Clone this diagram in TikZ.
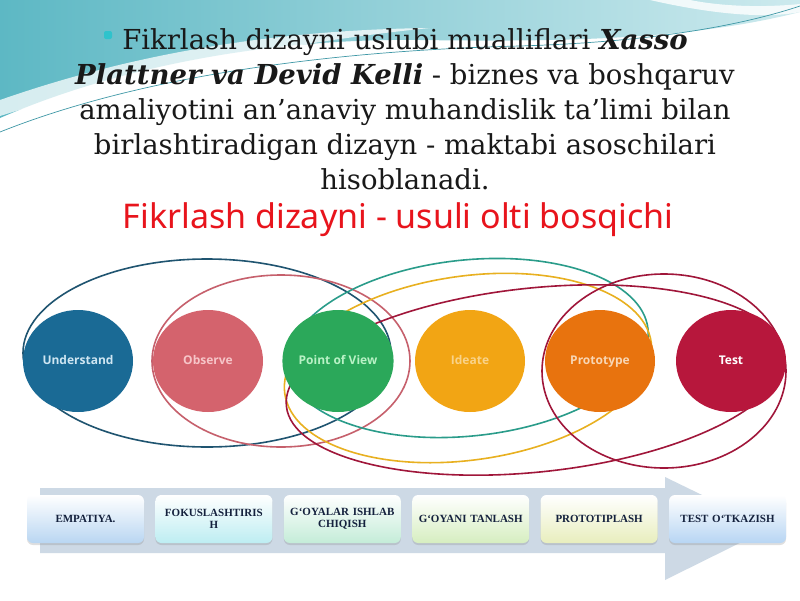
\documentclass[tikz,border=0pt]{standalone}
\usepackage{fontspec}
\setmainfont{DejaVu Serif}
\newfontfamily\headfont{Noto Sans}
\newfontfamily\labelfont{Open Sans}
\newfontfamily\boxfont{Liberation Serif}
\usetikzlibrary{positioning,shapes.geometric,shadows}
\definecolor{wave}{HTML}{5DB8C4}
\definecolor{wavelight}{HTML}{CDEAEE}
\definecolor{wavedark}{HTML}{3F98A6}
\definecolor{bulletc}{HTML}{2FC3CC}
\definecolor{headred}{HTML}{E8141C}
\definecolor{undc}{HTML}{1A6A95}
\definecolor{obsc}{HTML}{D4636D}
\definecolor{povc}{HTML}{2BA85A}
\definecolor{idec}{HTML}{F2A514}
\definecolor{proc}{HTML}{E8730E}
\definecolor{tstc}{HTML}{B7173C}
\definecolor{undt}{HTML}{CFE6F2}
\definecolor{obst}{HTML}{F6C5C8}
\definecolor{povt}{HTML}{B9F2C6}
\definecolor{idet}{HTML}{F9D38A}
\definecolor{prot}{HTML}{F8D6B4}
\definecolor{navyr}{HTML}{1F5470}
\definecolor{pinkr}{HTML}{C6606C}
\definecolor{tealr}{HTML}{2A9C8A}
\definecolor{amberr}{HTML}{E8B020}
\definecolor{crimr}{HTML}{A0163A}
\definecolor{band}{HTML}{CDD9E5}
\definecolor{boxtext}{HTML}{14213D}
\definecolor{empc}{HTML}{B9D6F2}
\definecolor{fokc}{HTML}{BDEDF2}
\definecolor{goyc}{HTML}{C4ECD8}
\definecolor{tanc}{HTML}{D6EEC0}
\definecolor{prtc}{HTML}{E8EEBD}
\definecolor{tesc}{HTML}{B7D5F3}

\begin{document}
\begin{tikzpicture}[x=1pt,y=-1pt,
    stage/.style={ellipse,minimum width=110pt,minimum height=102pt,inner sep=0pt,
        text height=9pt,text depth=2.5pt,
        font=\labelfont\bfseries\fontsize{12}{14}\selectfont},
    ring/.style={line width=1.6pt},
    phase/.style={rounded corners=6pt,minimum width=117pt,minimum height=48pt,
        text width=114pt,align=center,inner sep=1.5pt,text=boxtext,
        font=\boxfont\bfseries\fontsize{11}{12}\selectfont,
        drop shadow={shadow xshift=0pt,shadow yshift=-2pt,opacity=.25}}]
    \useasboundingbox (0,0) rectangle (800,600);
    \fill[white] (0,0) rectangle (800,600);

    \shade[left color=wave,right color=wavelight] (0,0) -- (800,0) -- (800,12)
        .. controls (690,40) and (560,42) .. (420,40)
        .. controls (260,38) and (110,70) .. (0,118) -- cycle;
    \fill[white,opacity=.75] (0,100) .. controls (120,58) and (260,30) .. (430,28)
        .. controls (290,42) and (140,72) .. (0,116) -- cycle;
    \fill[white,opacity=.8] (650,0) .. controls (720,16) and (770,18) .. (800,12)
        -- (800,4) .. controls (760,8) and (720,6) .. (690,0) -- cycle;
    \draw[wavedark,line width=.7pt] (0,132) .. controls (150,72) and (350,50) .. (520,46)
        .. controls (650,42) and (740,26) .. (800,6);

    \node[fill=bulletc,minimum size=8pt,inner sep=0pt,rounded corners=2pt] (dot) at (108,35) {};
    \node[align=center,font=\fontsize{27.5}{35}\selectfont,text=black!90] (intro) at (405,109)
        {Fikrlash dizayni uslubi mualliflari \textbf{\textit{Xasso}}\\
         \textbf{\textit{Plattner va Devid Kelli}} - biznes va boshqaruv\\
         amaliyotini an’anaviy muhandislik ta’limi bilan\\
         birlashtiradigan dizayn - maktabi asoschilari\\
         hisoblanadi.};
    \node[font=\headfont\fontsize{34}{40}\selectfont,text=headred] (head) at (398,220)
        {Fikrlash dizayni - usuli olti bosqichi};

    \draw[ring,navyr] (207,353) ellipse (184 and 94);
    \draw[ring,pinkr] (281,361) ellipse (129 and 86);
    \draw[ring,tealr,rotate around={6:(468,348)}] (468,348) ellipse (181 and 88);
    \draw[ring,amberr,rotate around={8:(468,368)}] (468,368) ellipse (185 and 92);
    \draw[ring,crimr] (664,371) ellipse (122 and 97);
    \draw[ring,crimr,rotate around={6:(535,380)}] (535,380) ellipse (250 and 92);

    \node[stage,fill=undc,text=undt] (und) at (78,361) {Understand};
    \node[stage,fill=obsc,text=obst] (obs) at (208,361) {Observe};
    \node[stage,fill=povc,text=povt] (pov) at (338,361) {Point of View};
    \node[stage,fill=idec,text=idet] (ide) at (470,361) {Ideate};
    \node[stage,fill=proc,text=prot] (pro) at (600,361) {Prototype};
    \node[stage,fill=tstc,text=white] (tst) at (731,361) {Test};

    \fill[band] (40,488) -- (665,488) -- (665,477) -- (770,528) -- (665,580)
        -- (665,553) -- (40,553) -- cycle;

    \node[phase,top color=white,bottom color=empc] (emp) at (85.5,519) {EMPATIYA.};
    \node[phase,top color=white,bottom color=fokc,right=11pt of emp] (fok) {FOKUSLASHTIRIS\\H};
    \node[phase,top color=white,bottom color=goyc,right=11pt of fok] (goy) {G‘OYALAR ISHLAB\\CHIQISH};
    \node[phase,top color=white,bottom color=tanc,right=11pt of goy] (tan) {G‘OYANI TANLASH};
    \node[phase,top color=white,bottom color=prtc,right=11pt of tan] (prt) {PROTOTIPLASH};
    \node[phase,top color=white,bottom color=tesc,right=11pt of prt] (tes) {TEST O‘TKAZISH};
\end{tikzpicture}
\end{document}
